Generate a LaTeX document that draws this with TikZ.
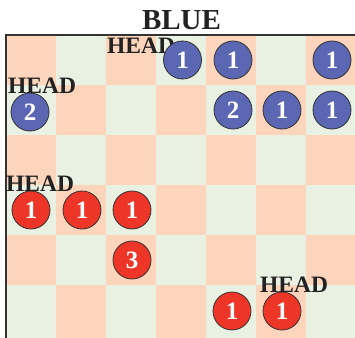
\documentclass[tikz,border=0pt]{standalone}
\usepackage{fontspec}
\setmainfont{Liberation Serif}
\definecolor{peach}{HTML}{FDD5BD}
\definecolor{mint}{HTML}{E9F1E2}
\definecolor{bluec}{HTML}{5B67B3}
\definecolor{redc}{HTML}{EE3628}
\definecolor{framec}{HTML}{333333}
\definecolor{inkc}{HTML}{222222}
\begin{document}
\begin{tikzpicture}[x=1pt,y=-1pt,
  disc/.style={circle,draw=framec,line width=0.8pt,minimum size=38pt,inner sep=0pt,text=white,font=\fontsize{25}{25}\selectfont\bfseries},
  bdisc/.style={disc,fill=bluec},
  rdisc/.style={disc,fill=redc},
  headlbl/.style={anchor=base west,inner sep=0pt,text=inkc,font=\fontsize{23.5}{24}\selectfont\bfseries},
  titlelbl/.style={anchor=base,inner sep=0pt,text=inkc,font=\fontsize{29}{30}\selectfont\bfseries}
]
\useasboundingbox (0,0) rectangle (355,337);
\begin{scope}
  \clip (0,0) rectangle (355,337);
  \foreach \r in {0,...,5} {
    \foreach \c in {0,...,6} {
      \pgfmathtruncatemacro\p{mod(\r+\c,2)}
      \ifnum\p=0
        \fill[peach] (6+50*\c,35+50*\r) rectangle ++(55,55);
      \else
        \fill[mint] (6+50*\c,35+50*\r) rectangle ++(55,55);
      \fi
    }
  }
  \draw[framec,line width=1.5pt] (6,345) -- (6,35) -- (365,35);
\end{scope}

\node[titlelbl] (title) at (181.5,30) {BLUE};

\node[headlbl] (h1) at (107,53) {HEAD};
\node[headlbl] (h2) at (8,93) {HEAD};
\node[headlbl] (h3) at (6,191) {HEAD};
\node[headlbl] (h4) at (260,292) {HEAD};

\node[bdisc] (b1) at (182.5,60) {1};
\node[bdisc] (b2) at (233,60) {1};
\node[bdisc] (b3) at (332,60) {1};
\node[bdisc] (b4) at (30,112) {2};
\node[bdisc] (b5) at (233,110) {2};
\node[bdisc] (b6) at (282,110) {1};
\node[bdisc] (b7) at (332,110) {1};

\node[rdisc] (r1) at (31,210) {1};
\node[rdisc] (r2) at (82,210) {1};
\node[rdisc] (r3) at (132,210) {1};
\node[rdisc] (r4) at (132,260) {3};
\node[rdisc] (r5) at (232,311) {1};
\node[rdisc] (r6) at (282,311) {1};
\end{tikzpicture}
\end{document}
